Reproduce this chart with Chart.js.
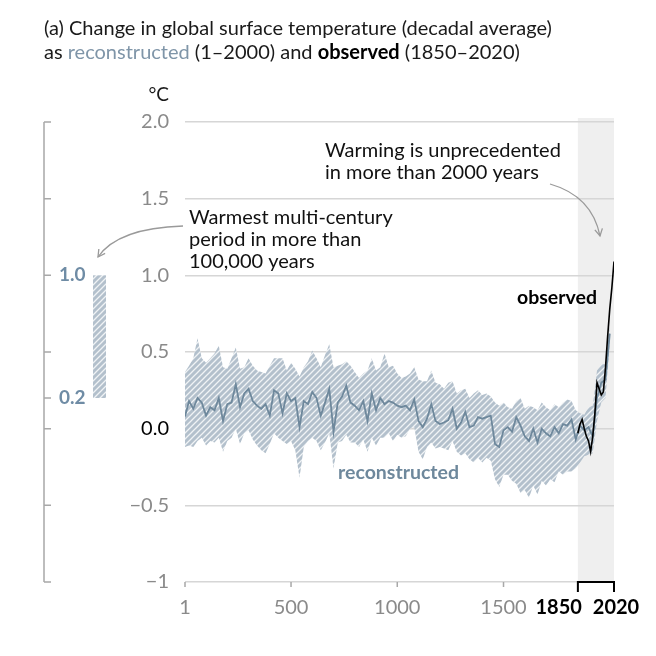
<!DOCTYPE html>
<html>
<head>
<meta charset="utf-8">
<script src="https://cdn.jsdelivr.net/npm/chart.js@4"></script>
<style>
  body { margin: 0; background: #fff; }
  #wrap { width: 656px; height: 656px; }
</style>
</head>
<body>
<div id="wrap"><canvas id="chart" width="656" height="656"></canvas></div>
<script>
// ── data ──
const reconYears = [1, 20, 40, 60, 80, 100, 120, 140, 160, 180, 200, 220, 240, 260, 280, 300, 320, 340, 360, 380,
  400, 420, 440, 460, 480, 500, 520, 540, 560, 580, 600, 620, 640, 660, 680, 700, 720, 740, 760, 780,
  800, 820, 840, 860, 880, 900, 920, 940, 960, 980, 1000, 1020, 1040, 1060, 1080, 1100, 1120, 1140, 1160, 1180,
  1200, 1220, 1240, 1260, 1280, 1300, 1320, 1340, 1360, 1380, 1400, 1420, 1440, 1460, 1480, 1500, 1520, 1540, 1560, 1580,
  1600, 1620, 1640, 1660, 1680, 1700, 1720, 1740, 1760, 1780, 1800, 1820, 1840, 1860, 1880, 1900, 1920, 1940, 1960, 1980, 2000];
const reconMedian = [0.08, 0.18, 0.13, 0.20, 0.17, 0.085, 0.14, 0.12, 0.20, 0.05, 0.16, 0.17, 0.29, 0.14, 0.23, 0.26, 0.18, 0.15, 0.13, 0.16,
  0.085, 0.25, 0.23, 0.10, 0.23, 0.18, 0.20, 0.01, 0.18, 0.16, 0.24, 0.20, 0.085, 0.17, 0.26, -0.02, 0.17, 0.21, 0.28, 0.17,
  0.15, 0.12, 0.18, 0.05, 0.23, 0.12, 0.20, 0.16, 0.18, 0.17, 0.15, 0.14, 0.15, 0.12, 0.19, 0.05, 0.01, 0.065, 0.16, 0.05,
  0.03, 0.04, 0.055, 0.13, 0.00, 0.04, 0.11, 0.01, 0.02, 0.075, 0.065, 0.075, 0.085, -0.10, -0.12, -0.01, 0.01, -0.02, 0.075, 0.02,
  -0.05, -0.08, 0.00, -0.09, 0.00, -0.03, -0.05, 0.01, -0.03, 0.03, 0.02, 0.06, -0.07, 0.02, -0.01, 0.01, -0.05, 0.20, 0.30, 0.32, 0.62];
const reconUpper = [0.37, 0.41, 0.46, 0.59, 0.46, 0.43, 0.46, 0.49, 0.54, 0.40, 0.39, 0.46, 0.53, 0.39, 0.40, 0.46, 0.41, 0.38, 0.37, 0.36,
  0.41, 0.46, 0.46, 0.46, 0.38, 0.43, 0.39, 0.34, 0.40, 0.44, 0.51, 0.46, 0.40, 0.48, 0.55, 0.40, 0.41, 0.42, 0.44, 0.41,
  0.37, 0.33, 0.36, 0.38, 0.46, 0.38, 0.40, 0.49, 0.40, 0.41, 0.36, 0.33, 0.34, 0.36, 0.40, 0.32, 0.31, 0.31, 0.38, 0.30,
  0.29, 0.26, 0.30, 0.31, 0.23, 0.25, 0.26, 0.20, 0.23, 0.25, 0.22, 0.23, 0.21, 0.17, 0.15, 0.17, 0.14, 0.13, 0.18, 0.20,
  0.13, 0.15, 0.14, 0.12, 0.17, 0.14, 0.12, 0.16, 0.14, 0.17, 0.19, 0.18, 0.12, 0.10, 0.09, 0.14, 0.15, 0.38, 0.42, 0.42, 0.68];
const reconLower = [-0.12, -0.11, -0.12, -0.08, -0.06, -0.11, -0.08, -0.09, -0.06, -0.15, -0.08, -0.06, 0.00, -0.10, -0.03, -0.01, -0.07, -0.11, -0.14, -0.16,
  -0.10, -0.03, -0.06, -0.08, -0.10, -0.08, -0.14, -0.32, -0.12, -0.08, -0.06, -0.08, -0.14, -0.09, -0.03, -0.26, -0.09, -0.08, -0.04, -0.09,
  -0.09, -0.12, -0.07, -0.15, -0.06, -0.11, -0.06, -0.06, -0.03, -0.08, -0.04, -0.06, -0.05, 0.00, 0.01, -0.15, -0.20, -0.12, -0.09, -0.13,
  -0.12, -0.13, -0.14, -0.08, -0.15, -0.175, -0.16, -0.20, -0.22, -0.19, -0.22, -0.19, -0.21, -0.33, -0.38, -0.30, -0.30, -0.34, -0.36, -0.42,
  -0.40, -0.45, -0.37, -0.43, -0.34, -0.37, -0.33, -0.35, -0.28, -0.30, -0.28, -0.28, -0.26, -0.22, -0.18, -0.17, -0.16, 0.05, 0.17, 0.20, 0.55];

const obsYears = [1850, 1860, 1870, 1880, 1890, 1900, 1910, 1920, 1930, 1940, 1950, 1960, 1970, 1980, 1990, 2000, 2010, 2020];
const obsValues = [-0.03, 0.03, 0.06, 0.00, -0.05, -0.08, -0.15, -0.05, 0.10, 0.30, 0.26, 0.22, 0.24, 0.40, 0.60, 0.78, 0.92, 1.09];

const xTicks = [1, 500, 1000, 1500, 1850, 2020];
const leftTicks = [2.0, 1.5, 1.0, 0.5, 0.2, 0.0, -0.5, -1];
const warmestRange = [0.2, 1.0];
const observedSpan = [1850, 2020];

// ── colours / fonts ──
const FONT = 'Lato, "Open Sans", sans-serif';
const BLUE_GRAY = '#6e889c';
const GRID = '#d6d6d6';
const TICK_GRAY = '#8a8a8a';

function hatchPattern() {
  const c = document.createElement('canvas');
  c.width = 6; c.height = 6;
  const g = c.getContext('2d');
  g.fillStyle = '#b3c0cc';
  g.fillRect(0, 0, 6, 6);
  g.strokeStyle = 'rgba(255,255,255,0.8)';
  g.lineWidth = 1.3;
  g.beginPath();
  g.moveTo(0, 6); g.lineTo(6, 0);
  g.moveTo(-3, 3); g.lineTo(3, -3);
  g.moveTo(3, 9); g.lineTo(9, 3);
  g.stroke();
  return g.createPattern(c, 'repeat');
}
const HATCH = hatchPattern();

const pts = (xs, ys) => xs.map((x, i) => ({ x, y: ys[i] }));
const tickVal = c => (c.tick ? c.tick.value : null);

function arrowHead(ctx, x, y, angle) {
  const len = 8;
  ctx.beginPath();
  ctx.moveTo(x + len * Math.cos(angle - 0.5), y + len * Math.sin(angle - 0.5));
  ctx.lineTo(x, y);
  ctx.lineTo(x + len * Math.cos(angle + 0.5), y + len * Math.sin(angle + 0.5));
  ctx.stroke();
}

/* ── shaded observed period (behind grid) ── */
const shadePlugin = {
  id: 'shade',
  beforeDraw(chart) {
    const { ctx, chartArea, scales: { x } } = chart;
    const x0 = x.getPixelForValue(observedSpan[0]);
    const x1 = x.getPixelForValue(observedSpan[1]);
    ctx.save();
    ctx.fillStyle = '#efefef';
    ctx.fillRect(x0, chartArea.top - 4, x1 - x0, chartArea.bottom - chartArea.top + 4);
    ctx.restore();
  }
};

/* ── texts, left scale bar, axis ticks, arrows ── */
const decorPlugin = {
  id: 'decor',
  afterDraw(chart) {
    const { ctx, chartArea, scales: { x, y } } = chart;
    ctx.save();

    // title
    ctx.textBaseline = 'alphabetic';
    ctx.textAlign = 'left';
    ctx.font = '20px ' + FONT;
    ctx.fillStyle = '#1a1a1a';
    ctx.fillText('(a) Change in global surface temperature (decadal average)', 44, 35);
    let tx = 44;
    const parts = [
      ['as ', '20px', '#1a1a1a'],
      ['reconstructed', '20px', '#7f95a8'],
      [' (1–2000) and ', '20px', '#1a1a1a'],
      ['observed', 'bold 20px', '#000'],
      [' (1850–2020)', '20px', '#1a1a1a']
    ];
    parts.forEach(([t, f, c]) => {
      ctx.font = f + ' ' + FONT;
      ctx.fillStyle = c;
      ctx.fillText(t, tx, 59);
      tx += ctx.measureText(t).width;
    });

    // unit
    ctx.font = '19px ' + FONT;
    ctx.fillStyle = '#1a1a1a';
    ctx.textAlign = 'right';
    ctx.fillText('°C', 169, 101);

    // left reference scale
    const axX = 44;
    ctx.strokeStyle = '#a8a8a8';
    ctx.lineWidth = 1.5;
    ctx.beginPath();
    ctx.moveTo(axX, y.getPixelForValue(2));
    ctx.lineTo(axX, y.getPixelForValue(-1));
    leftTicks.forEach(v => {
      const py = y.getPixelForValue(v);
      ctx.moveTo(axX, py);
      ctx.lineTo(axX + 7, py);
    });
    ctx.stroke();
    ctx.font = 'bold 19px ' + FONT;
    ctx.fillStyle = '#6f8ca5';
    ctx.textAlign = 'left';
    ctx.textBaseline = 'middle';
    warmestRange.forEach(v => ctx.fillText(v.toFixed(1), 59, y.getPixelForValue(v)));
    const yTop = y.getPixelForValue(warmestRange[1]);
    const yBot = y.getPixelForValue(warmestRange[0]);
    ctx.fillStyle = HATCH;
    ctx.fillRect(93, yTop, 13, yBot - yTop);

    // x axis ticks, labels + observed bracket
    const bottom = chartArea.bottom;
    ctx.strokeStyle = '#a8a8a8';
    ctx.lineWidth = 1.5;
    ctx.beginPath();
    xTicks.filter(v => v < observedSpan[0]).forEach(v => {
      const px = x.getPixelForValue(v);
      ctx.moveTo(px, bottom);
      ctx.lineTo(px, bottom + 5);
    });
    ctx.stroke();
    const bx0 = x.getPixelForValue(observedSpan[0]);
    const bx1 = x.getPixelForValue(observedSpan[1]);
    ctx.strokeStyle = '#000';
    ctx.lineWidth = 2;
    ctx.beginPath();
    ctx.moveTo(bx0, bottom + 10);
    ctx.lineTo(bx0, bottom);
    ctx.lineTo(bx1, bottom);
    ctx.lineTo(bx1, bottom + 10);
    ctx.stroke();

    ctx.textBaseline = 'alphabetic';
    xTicks.forEach(v => {
      const px = x.getPixelForValue(v);
      const obs = v >= observedSpan[0];
      ctx.font = (obs ? 'bold ' : '') + '20px ' + FONT;
      ctx.fillStyle = obs ? '#000' : TICK_GRAY;
      if (v === observedSpan[0]) {
        ctx.textAlign = 'right';
        ctx.fillText(String(v), px + 4, 614);
      } else {
        ctx.textAlign = 'center';
        ctx.fillText(String(v), v === observedSpan[1] ? px + 2 : px, 614);
      }
    });

    // annotations
    ctx.textAlign = 'left';
    ctx.font = '20px ' + FONT;
    ctx.fillStyle = '#111';
    ctx.fillText('Warming is unprecedented', 325, 157);
    ctx.fillText('in more than 2000 years', 325, 179);
    ctx.fillText('Warmest multi-century', 189, 224);
    ctx.fillText('period in more than', 189, 246);
    ctx.fillText('100,000 years', 189, 268);

    ctx.font = 'bold 19.5px ' + FONT;
    ctx.fillStyle = '#000';
    ctx.fillText('observed', 517, 304);
    ctx.fillStyle = BLUE_GRAY;
    ctx.fillText('reconstructed', 338, 479);

    // arrows
    ctx.strokeStyle = '#9a9a9a';
    ctx.lineWidth = 1.3;
    ctx.beginPath();
    ctx.moveTo(550, 184);
    ctx.quadraticCurveTo(592, 196, 600, 236);
    ctx.stroke();
    arrowHead(ctx, 600, 236, Math.atan2(196 - 236, 592 - 600));
    ctx.beginPath();
    ctx.moveTo(183, 226);
    ctx.quadraticCurveTo(118, 228, 98, 257);
    ctx.stroke();
    arrowHead(ctx, 98, 257, Math.atan2(228 - 257, 118 - 98));

    ctx.restore();
  }
};

const chart = new Chart(document.getElementById('chart'), {
  type: 'line',
  data: {
    datasets: [
      {
        label: 'observed',
        data: pts(obsYears, obsValues),
        borderColor: '#000',
        borderWidth: 1.6,
        pointRadius: 0,
        fill: false
      },
      {
        label: 'reconstructed',
        data: pts(reconYears, reconMedian),
        borderColor: BLUE_GRAY,
        borderWidth: 1.8,
        pointRadius: 0,
        fill: false
      },
      {
        label: 'upper',
        data: pts(reconYears, reconUpper),
        borderWidth: 0,
        borderColor: 'rgba(0,0,0,0)',
        backgroundColor: HATCH,
        pointRadius: 0,
        fill: 3
      },
      {
        label: 'lower',
        data: pts(reconYears, reconLower),
        borderWidth: 0,
        borderColor: 'rgba(0,0,0,0)',
        pointRadius: 0,
        fill: false
      }
    ]
  },
  options: {
    responsive: false,
    animation: false,
    layout: { padding: { top: 122, right: 42, left: 0, bottom: 0 } },
    plugins: { legend: { display: false }, tooltip: { enabled: false } },
    elements: { line: { tension: 0 } },
    scales: {
      x: {
        type: 'linear',
        min: 1,
        max: 2020,
        afterBuildTicks: s => { s.ticks = xTicks.map(v => ({ value: v })); },
        afterFit: s => { s.height = 74; },
        grid: { display: false, drawTicks: false },
        border: { display: false },
        ticks: { display: false }
      },
      y: {
        min: -1,
        max: 2,
        afterFit: s => { s.width = 185; },
        grid: { color: GRID, lineWidth: 1.5, drawTicks: false },
        border: { display: false },
        ticks: {
          stepSize: 0.5,
          padding: 16,
          callback: v => (v === -1 ? '−1' : (v < 0 ? '−' + Math.abs(v).toFixed(1) : v.toFixed(1))),
          color: c => (tickVal(c) === 0 ? '#000' : TICK_GRAY),
          font: { family: FONT, size: 20 }
        }
      }
    }
  },
  plugins: [shadePlugin, decorPlugin]
});
</script>
</body>
</html>
